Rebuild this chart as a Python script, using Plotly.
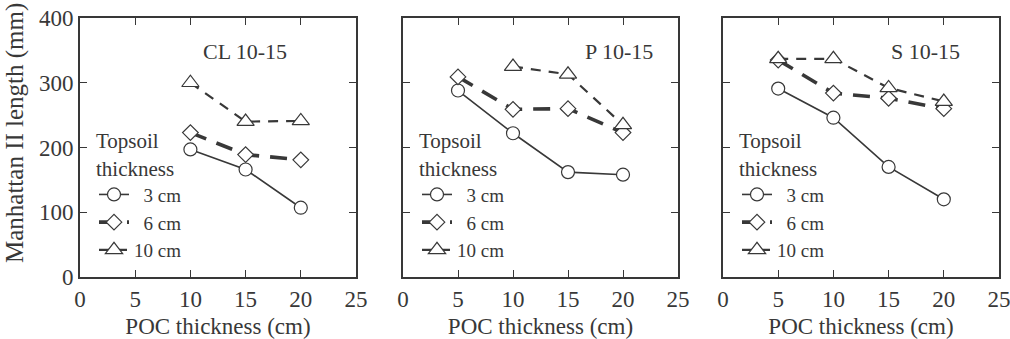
import plotly.graph_objects as go

W, H = 1010, 339

panels = ["CL 10-15", "P 10-15", "S 10-15"]
series_names = ["\u20073 cm", "\u20076 cm", "10 cm"]

x_cl_3 = [10, 15, 20]
y_cl_3 = [197, 166, 107]
x_cl_6 = [10, 15, 20]
y_cl_6 = [223, 189, 181]
x_cl_10 = [10, 15, 20]
y_cl_10 = [300, 240, 241]

x_p_3 = [5, 10, 15, 20]
y_p_3 = [288, 222, 162, 158]
x_p_6 = [5, 10, 15, 20]
y_p_6 = [309, 259, 260, 223]
x_p_10 = [10, 15, 20]
y_p_10 = [325, 313, 235]

x_s_3 = [5, 10, 15, 20]
y_s_3 = [291, 246, 170, 120]
x_s_6 = [5, 10, 15, 20]
y_s_6 = [335, 284, 276, 260]
x_s_10 = [5, 10, 15, 20]
y_s_10 = [337, 337, 292, 271]

data = [
    [(x_cl_3, y_cl_3), (x_cl_6, y_cl_6), (x_cl_10, y_cl_10)],
    [(x_p_3, y_p_3), (x_p_6, y_p_6), (x_p_10, y_p_10)],
    [(x_s_3, y_s_3), (x_s_6, y_s_6), (x_s_10, y_s_10)],
]

x_ticks = [0, 5, 10, 15, 20, 25]
y_ticks = [0, 100, 200, 300, 400]

INK = "#383838"
FONT = "Liberation Serif"


def fnt(size):
    return dict(family=FONT, size=size, color=INK)


styles = [
    dict(line=dict(color=INK, width=1.6, dash="solid"),
         marker=dict(symbol="circle", size=13, color="white", line=dict(width=1.2, color=INK))),
    dict(line=dict(color=INK, width=3.6, dash="17px,11px"),
         marker=dict(symbol="diamond", size=12, color="white", line=dict(width=1.2, color=INK))),
    dict(line=dict(color=INK, width=2.2, dash="10px,8px"),
         marker=dict(symbol="triangle-up", size=15, color="white", line=dict(width=1.2, color=INK))),
]

x_domains = [(80 / W, 356 / W), (403 / W, 678 / W), (723 / W, 999 / W)]
y_domain = (1 - 277 / H, 1 - 18 / H)
label_x = [0.598, 0.785, 0.732]

fig = go.Figure()
legend_keys = ["legend", "legend2", "legend3"]
for p in range(3):
    xa = "x" if p == 0 else f"x{p+1}"
    ya = "y" if p == 0 else f"y{p+1}"
    for s in range(3):
        xs, ys = data[p][s]
        fig.add_trace(go.Scatter(
            x=xs, y=ys, mode="lines+markers", name=series_names[s],
            xaxis=xa, yaxis=ya, legend=legend_keys[p], showlegend=True,
            line=styles[s]["line"], marker=styles[s]["marker"],
        ))

layout = dict(
    width=W, height=H, margin=dict(l=0, r=0, t=0, b=0),
    paper_bgcolor="white", plot_bgcolor="white",
    font=fnt(20),
    annotations=[],
)

for p in range(3):
    kx = "xaxis" if p == 0 else f"xaxis{p+1}"
    ky = "yaxis" if p == 0 else f"yaxis{p+1}"
    layout[kx] = dict(
        domain=list(x_domains[p]), range=[0, 25], tickvals=x_ticks,
        ticks="inside", ticklen=7, tickwidth=1.3, tickcolor=INK,
        showline=True, linecolor=INK, linewidth=2, mirror="ticks",
        showgrid=False, zeroline=False, automargin=False,
        ticklabeloverflow="allow",
        anchor="y" if p == 0 else f"y{p+1}",
        title=dict(text="POC thickness (cm)", standoff=7, font=fnt(23)),
        tickfont=fnt(23),
    )
    layout[ky] = dict(
        domain=list(y_domain), range=[0, 400], tickvals=y_ticks,
        ticks="inside", ticklen=7, tickwidth=1.3, tickcolor=INK,
        showline=True, linecolor=INK, linewidth=2, mirror="ticks",
        showgrid=False, zeroline=False, automargin=False,
        ticklabeloverflow="allow",
        showticklabels=(p == 0),
        anchor="x" if p == 0 else f"x{p+1}",
        tickfont=fnt(23),
    )
    layout[legend_keys[p]] = dict(
        x=(x_domains[p][0] * W + 14) / W, y=1 - 121 / H,
        xanchor="left", yanchor="top", bgcolor="rgba(0,0,0,0)",
        title=dict(text="Topsoil<br>thickness", font=fnt(21)),
        font=fnt(19), tracegroupgap=0, itemwidth=30,
    )
    layout["annotations"].append(dict(
        text=panels[p], xref=f"x{'' if p == 0 else p+1} domain",
        yref=f"y{'' if p == 0 else p+1} domain",
        x=label_x[p], y=0.869, showarrow=False,
        font=fnt(22), xanchor="center", yanchor="middle",
    ))

layout["annotations"].append(dict(
    text="Manhattan II length (mm)", xref="paper", yref="paper",
    x=15 / W, y=1 - 133 / H, textangle=-90, showarrow=False,
    font=fnt(25), xanchor="center", yanchor="middle",
))

fig.update_layout(**layout)
fig.write_html("out.html")
